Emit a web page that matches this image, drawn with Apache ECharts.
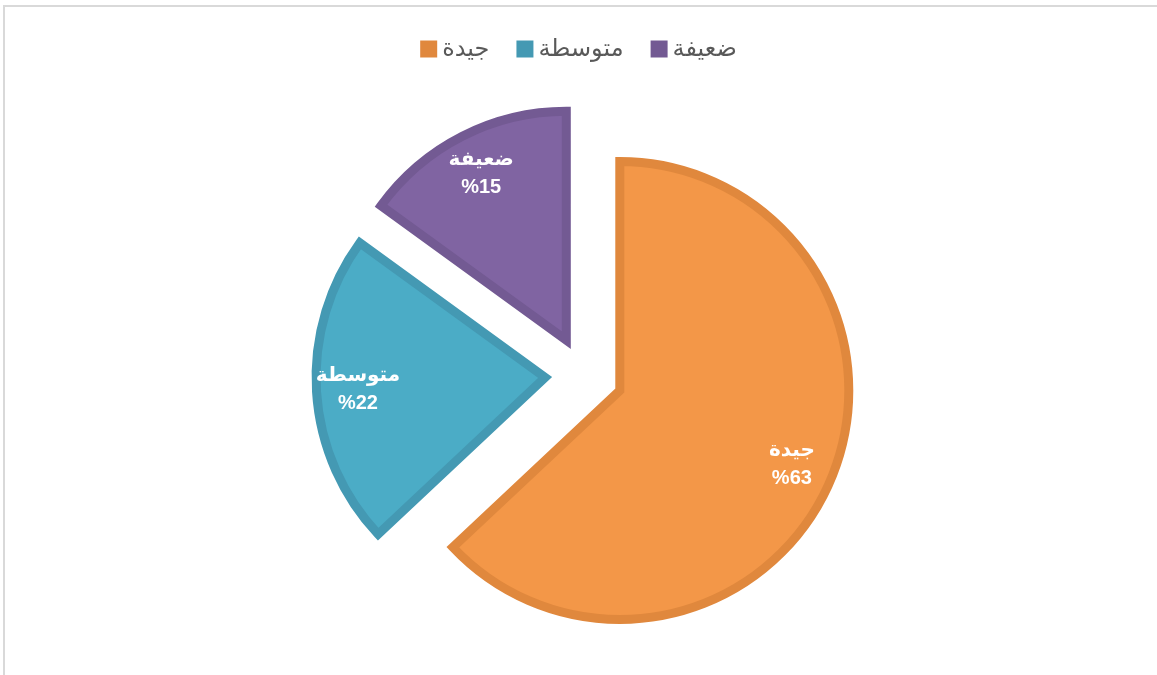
<!DOCTYPE html>
<html>
<head>
<meta charset="utf-8">
<script src="https://cdn.jsdelivr.net/npm/echarts@6/dist/echarts.min.js"></script>
<style>
  html, body { margin: 0; padding: 0; background: #fff; }
  #frame { position: absolute; left: 3px; top: 5px; width: 1154px; height: 670px;
           border-top: 2px solid #d9d9d9; border-left: 2px solid #d9d9d9; box-sizing: border-box; }
  #container { position: absolute; left: 0; top: 0; width: 1157px; height: 675px; }
</style>
</head>
<body>
<div id="frame"></div>
<div id="container"></div>
<script>
// بيانات الرسم
var categories = ["جيدة", "متوسطة", "ضعيفة"];
var values = [63, 22, 15];
var fillColors = ["#F39748", "#4BACC6", "#8064A2"];
var borderColors = ["#E0883D", "#4499B3", "#735A93"];

var total = values.reduce(function (a, b) { return a + b; }, 0);

// زاوية منتصف كل شريحة (لتحريك النص للخارج)
function midAngle(idx) {
    var before = 0;
    for (var i = 0; i < idx; i++) before += values[i];
    var frac = (before + values[idx] / 2) / total;
    return (90 - frac * 360) * Math.PI / 180;
}

var pieData = categories.map(function (name, i) {
    return {
        name: name,
        value: values[i],
        selected: true,
        itemStyle: { color: fillColors[i], borderColor: borderColors[i] }
    };
});

var myChart = echarts.init(document.getElementById("container"));
myChart.setOption({
    animation: false,
    legend: {
        top: 32,
        left: "center",
        icon: "rect",
        itemWidth: 17,
        itemHeight: 17,
        itemGap: 27,
        itemStyle: { borderWidth: 0 },
        textStyle: { color: "#595959", fontSize: 24, fontFamily: "Arial, 'DejaVu Sans', sans-serif" },
        data: categories.map(function (c, i) {
            return { name: c, itemStyle: { color: borderColors[i], borderWidth: 0 } };
        })
    },
    series: [{
        type: "pie",
        center: [584, 375],
        radius: 229,
        startAngle: 90,
        clockwise: true,
        selectedMode: "multiple",
        selectedOffset: 39,
        itemStyle: { borderWidth: 9, borderJoin: "miter" },
        select: { itemStyle: { borderWidth: 9 } },
        emphasis: { disabled: true },
        label: {
            position: "inside",
            color: "#fff",
            fontSize: 20,
            fontWeight: "bold",
            lineHeight: 28,
            fontFamily: "Arial, 'DejaVu Sans', sans-serif",
            formatter: function (p) { return p.name + "\n%" + p.value; }
        },
        labelLine: { show: false },
        labelLayout: function (p) {
            var a = midAngle(p.dataIndex);
            var shift = 70;
            return { dx: Math.cos(a) * shift, dy: -Math.sin(a) * shift };
        },
        data: pieData
    }]
});
</script>
</body>
</html>
